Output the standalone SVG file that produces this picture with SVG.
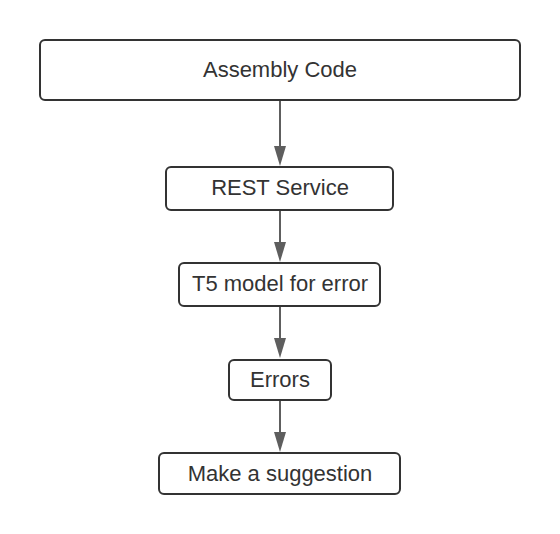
<svg xmlns="http://www.w3.org/2000/svg" width="560" height="534" viewBox="0 0 560 534">
<style>
.box{fill:#ffffff;stroke:#333333;stroke-width:2}
.lbl{font-family:"Liberation Sans",Arial,sans-serif;font-size:22px;fill:#333333;text-anchor:middle}
.edge{stroke:#5e5e5e;stroke-width:2;fill:none}
</style>
<rect width="560" height="534" fill="#ffffff"/>
<g id="connectors">
<line class="edge" x1="280" y1="101" x2="280" y2="147"/>
<polygon points="274,146 286,146 280,166" fill="#5e5e5e"/>
<line class="edge" x1="280" y1="211" x2="280" y2="243"/>
<polygon points="274,242 286,242 280,262" fill="#5e5e5e"/>
<line class="edge" x1="280" y1="307" x2="280" y2="339"/>
<polygon points="274,338 286,338 280,358" fill="#5e5e5e"/>
<line class="edge" x1="280" y1="401" x2="280" y2="433"/>
<polygon points="274,432 286,432 280,452" fill="#5e5e5e"/>
</g>
<g id="assembly">
<rect class="box" x="40" y="40" width="480" height="60" rx="5"/>
<text class="lbl" x="280" y="77">Assembly Code</text>
</g>
<g id="rest">
<rect class="box" x="166" y="167" width="227" height="43" rx="5"/>
<text class="lbl" x="280" y="195">REST Service</text>
</g>
<g id="t5">
<rect class="box" x="179" y="263" width="201" height="43" rx="5"/>
<text class="lbl" x="280" y="291">T5 model for error</text>
</g>
<g id="errors">
<rect class="box" x="229" y="360" width="102" height="40" rx="5"/>
<text class="lbl" x="280" y="387">Errors</text>
</g>
<g id="suggest">
<rect class="box" x="159" y="453" width="241" height="41" rx="5"/>
<text class="lbl" x="280" y="481">Make a suggestion</text>
</g>
</svg>
